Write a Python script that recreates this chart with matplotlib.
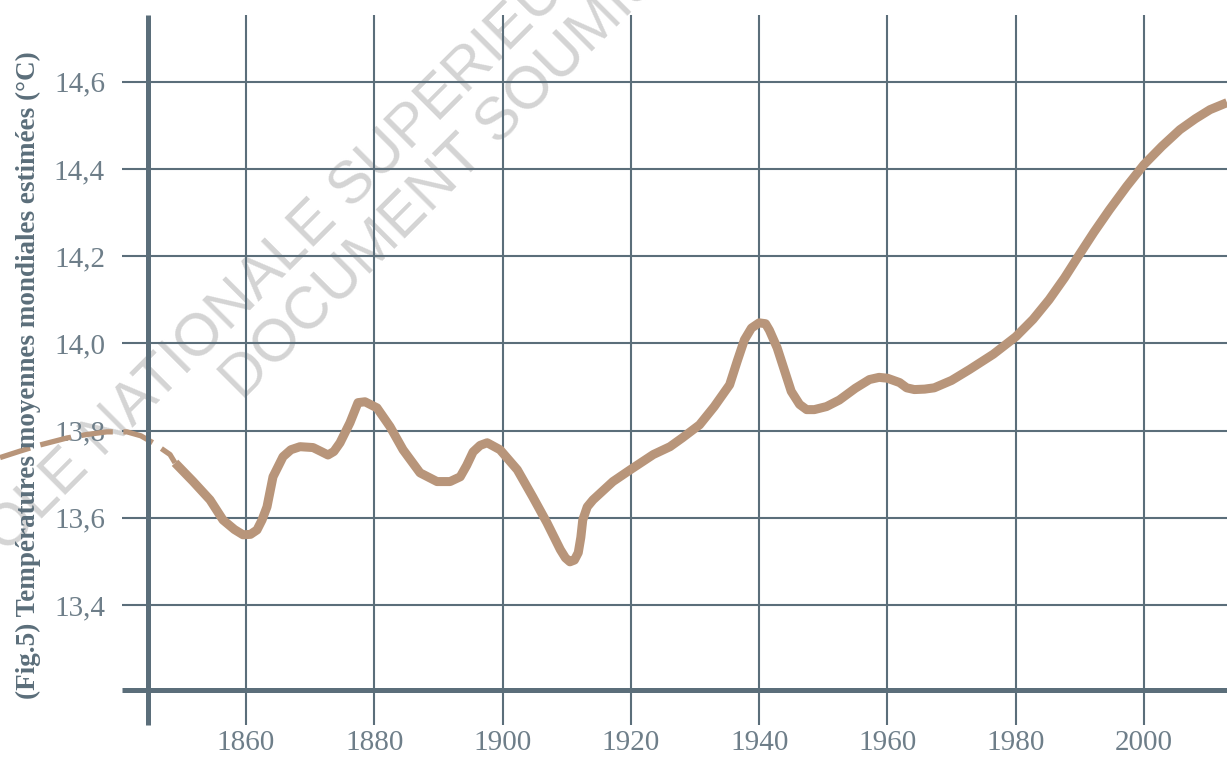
"""
Estimated global mean temperature since the mid 19th century
"""
import numpy as np
import matplotlib.pyplot as plt

# New figure (same size as the page)
fig = plt.figure(figsize=(12.27, 7.57), dpi=100)

# Serif font, slate colour
plt.rcParams.update({'font.size': 21, 'font.family': 'Liberation Serif'})
slate = '#5b6e7a'
brown = '#b8957a'

# Reconstruction before the records (dashed)
x_old = np.array([1821.65, 1824.8, 1827.9, 1832.1, 1835.2, 1838.3, 1841.45, 1843.6,
                  1845.5, 1848.15, 1848.93])
y_old = np.array([13.738, 13.753, 13.767, 13.783, 13.791, 13.797, 13.797, 13.788,
                  13.772, 13.745, 13.726])

# Estimated temperatures (solid)
x = np.array([1848.93, 1851.7, 1854.39, 1856.41, 1858.2, 1859.53, 1860.7, 1861.71,
              1862.5, 1863.27, 1864.21, 1865.77, 1867, 1868.42, 1870.45, 1871.7,
              1872.78, 1873.7, 1874.66, 1876.21, 1877.46, 1878.55, 1880.42, 1882.45,
              1884.48, 1887.13, 1889.78, 1891.81, 1893.4, 1894.4, 1895.4, 1896.5,
              1897.6, 1899.6, 1902.3, 1904.7, 1906.9, 1909.0, 1909.8, 1910.5,
              1911.2, 1911.8, 1912.2, 1912.5, 1913.2, 1914.1, 1917.2, 1919.9,
              1923.5, 1926.1, 1928, 1930.7, 1933, 1935.4, 1936.6, 1937.7, 1938.8,
              1940, 1941, 1941.6, 1942.8, 1943.9, 1945, 1946.3, 1947.4, 1948.6,
              1950.5, 1952.5, 1955, 1957.2, 1958.7, 1960, 1961.9, 1963, 1964.2,
              1965.8, 1967.3, 1970, 1972.8, 1976.5, 1980, 1982.7, 1985.2, 1987.6,
              1989.9, 1992.2, 1994.6, 1997.3, 2000, 2002.8, 2005.6, 2008, 2010.3,
              2012.94])
y = np.array([13.726, 13.684, 13.641, 13.595, 13.573, 13.561, 13.562, 13.572,
              13.595, 13.625, 13.694, 13.740, 13.756, 13.763, 13.761, 13.752,
              13.744, 13.752, 13.772, 13.818, 13.864, 13.866, 13.852, 13.809,
              13.756, 13.703, 13.683, 13.683, 13.694, 13.72, 13.751, 13.766,
              13.772, 13.756, 13.71, 13.648, 13.589, 13.527, 13.508, 13.499,
              13.503, 13.52, 13.555, 13.595, 13.625, 13.641, 13.683, 13.71,
              13.745, 13.763, 13.783, 13.813, 13.855, 13.905, 13.96, 14.008, 14.035,
              14.047, 14.045, 14.03, 13.99, 13.94, 13.89, 13.86, 13.848, 13.848,
              13.855, 13.87, 13.897, 13.917, 13.922, 13.92, 13.91, 13.898, 13.894,
              13.895, 13.898, 13.915, 13.94, 13.975, 14.015, 14.055, 14.10, 14.15,
              14.203, 14.255, 14.306, 14.36, 14.41, 14.452, 14.49, 14.515, 14.536,
              14.552])

# Make the plot
ax = plt.gca()
ax.set_position([148/1227, 67/757, 1 - 148/1227, (690 - 15)/757])
ax.patch.set_visible(False)
plt.plot(x_old, y_old, color=brown, lw=3.8, dashes=(6, 2), clip_on=False)
plt.plot(x, y, color=brown, lw=6.5, solid_capstyle='butt', solid_joinstyle='round')

# Limits and ticks
plt.xlim(1844.72, 2012.94)
plt.ylim(13.205, 14.753)
plt.xticks(np.arange(1860, 2001, 20))
plt.yticks(np.arange(13.4, 14.61, 0.2), ['13,4', '13,6', '13,8', '14,0', '14,2', '14,4', '14,6'])
plt.tick_params(axis='both', colors=slate, labelcolor='#6e7e89', width=1.5)
plt.tick_params(axis='x', length=25, pad=4)
plt.tick_params(axis='y', length=19, pad=12)

# Grid and spines
plt.grid(True, color=slate, lw=1.5)
ax.set_axisbelow(True)
for side in ['top', 'right']:
    ax.spines[side].set_visible(False)
for side in ['left', 'bottom']:
    ax.spines[side].set_color(slate)
    ax.spines[side].set_linewidth(3.6)
    ax.spines[side].set_capstyle('butt')
ax.spines['left'].set_bounds(13.205 - 35/436, 14.753)
ax.spines['bottom'].set_bounds(1844.72 - 26/6.414, 2012.94)

# Axis label
fig.text(28/1227, 1 - 375/757, '(Fig.5) Températures moyennes mondiales estimées (°C)',
         rotation=90, ha='center', va='center', fontsize=19.5, fontweight='bold', color=slate)

# Watermark behind the grid
fig.text(-52/1227, 1 - 614/757, 'ECOLE NATIONALE SUPERIEURE DES ARTS', rotation=45,
         rotation_mode='anchor', ha='left', va='baseline', fontsize=43,
         family='Liberation Sans', color='#d4d4d4', zorder=-1)
fig.text(243/1227, 1 - 402/757, 'DOCUMENT SOUMIS AU DROIT', rotation=45,
         rotation_mode='anchor', ha='left', va='baseline', fontsize=43,
         family='Liberation Sans', color='#d4d4d4', zorder=-1)

# Save the file
fig.savefig('out.png', facecolor='white')
